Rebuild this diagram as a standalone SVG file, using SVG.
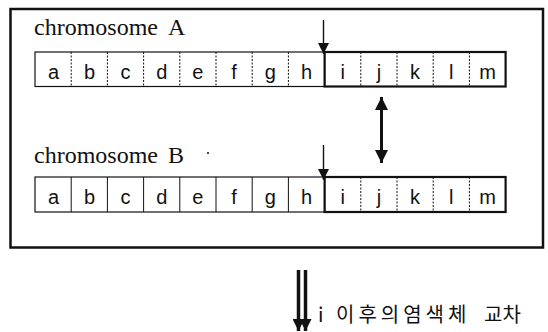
<svg xmlns="http://www.w3.org/2000/svg" width="548" height="332" viewBox="0 0 548 332">
<style>
.lbl{font-family:"Liberation Serif","Times New Roman",serif;font-size:24px;fill:#111}
.gene{font-family:"Liberation Sans",Arial,sans-serif;font-size:20px;fill:#111;text-anchor:middle}
.thin{fill:none;stroke:#111;stroke-width:1.2}
.thick{fill:none;stroke:#111;stroke-width:2.2}
.dot{stroke:#111;stroke-width:1;stroke-dasharray:2 1.5}
.sol{stroke:#111;stroke-width:1}
.kor{font-family:"Noto Sans CJK KR","Noto Sans",sans-serif;font-size:20px;fill:#111}
</style>
<defs>
<marker id="ah" viewBox="0 0 10 10" refX="10" refY="5" markerWidth="13" markerHeight="11" markerUnits="userSpaceOnUse" orient="auto"><path d="M0,0 L10,5 L0,10 z" fill="#111"/></marker>
<marker id="ahb" viewBox="0 0 10 10" refX="10" refY="5" markerWidth="16" markerHeight="13" markerUnits="userSpaceOnUse" orient="auto-start-reverse"><path d="M0,0 L10,5 L0,10 z" fill="#111"/></marker>
<marker id="ahd" viewBox="0 0 10 10" refX="10" refY="5" markerWidth="17" markerHeight="12" markerUnits="userSpaceOnUse" orient="auto"><path d="M0,0 L10,5 L0,10 z" fill="#111"/></marker>
</defs>
<rect width="548" height="332" fill="#fff"/>
<g id="frame">
<rect x="10.5" y="9" width="532.5" height="238.5" fill="none" stroke="#111" stroke-width="2.5"/>
</g>
<g id="chromosomeA">
<text class="lbl" x="34" y="35">chromosome</text>
<text class="lbl" x="168" y="35">A</text>
<rect class="thin" x="35" y="52" width="289.6" height="34.5"/>
<line class="dot" x1="71.2" y1="52" x2="71.2" y2="86.5"/>
<line class="dot" x1="107.4" y1="52" x2="107.4" y2="86.5"/>
<line class="dot" x1="143.6" y1="52" x2="143.6" y2="86.5"/>
<line class="dot" x1="179.8" y1="52" x2="179.8" y2="86.5"/>
<line class="dot" x1="216" y1="52" x2="216" y2="86.5"/>
<line class="dot" x1="252.2" y1="52" x2="252.2" y2="86.5"/>
<line class="dot" x1="288.4" y1="52" x2="288.4" y2="86.5"/>
<line class="dot" x1="360.8" y1="52" x2="360.8" y2="86.5"/>
<line class="dot" x1="397" y1="52" x2="397" y2="86.5"/>
<line class="dot" x1="433.2" y1="52" x2="433.2" y2="86.5"/>
<line class="dot" x1="469.4" y1="52" x2="469.4" y2="86.5"/>
<rect class="thick" x="324.6" y="52" width="181" height="34.5"/>
<text class="gene" x="53.5" y="79">a</text>
<text class="gene" x="89.5" y="79">b</text>
<text class="gene" x="125.5" y="79">c</text>
<text class="gene" x="161.7" y="79">d</text>
<text class="gene" x="197.9" y="79">e</text>
<text class="gene" x="234.1" y="79">f</text>
<text class="gene" x="270.3" y="79">g</text>
<text class="gene" x="306.5" y="79">h</text>
<text class="gene" x="342.7" y="79">i</text>
<text class="gene" x="378.9" y="79">j</text>
<text class="gene" x="415.1" y="79">k</text>
<text class="gene" x="451.3" y="79">l</text>
<text class="gene" x="487.5" y="79">m</text>
</g>
<g id="chromosomeB">
<text class="lbl" x="34" y="163">chromosome</text>
<text class="lbl" x="168" y="163">B</text>
<circle cx="208" cy="153" r="1" fill="#111"/>
<rect class="thin" x="35" y="177" width="289.6" height="35"/>
<line class="sol" x1="71.2" y1="177" x2="71.2" y2="212"/>
<line class="sol" x1="107.4" y1="177" x2="107.4" y2="212"/>
<line class="sol" x1="143.6" y1="177" x2="143.6" y2="212"/>
<line class="sol" x1="179.8" y1="177" x2="179.8" y2="212"/>
<line class="sol" x1="216" y1="177" x2="216" y2="212"/>
<line class="sol" x1="252.2" y1="177" x2="252.2" y2="212"/>
<line class="sol" x1="288.4" y1="177" x2="288.4" y2="212"/>
<line class="dot" x1="360.8" y1="177" x2="360.8" y2="212"/>
<line class="dot" x1="397" y1="177" x2="397" y2="212"/>
<line class="dot" x1="433.2" y1="177" x2="433.2" y2="212"/>
<line class="dot" x1="469.4" y1="177" x2="469.4" y2="212"/>
<rect class="thick" x="324.6" y="177" width="181" height="35"/>
<text class="gene" x="53.5" y="204">a</text>
<text class="gene" x="89.5" y="204">b</text>
<text class="gene" x="125.5" y="204">c</text>
<text class="gene" x="161.7" y="204">d</text>
<text class="gene" x="197.9" y="204">e</text>
<text class="gene" x="234.1" y="204">f</text>
<text class="gene" x="270.3" y="204">g</text>
<text class="gene" x="306.5" y="204">h</text>
<text class="gene" x="342.7" y="204">i</text>
<text class="gene" x="378.9" y="204">j</text>
<text class="gene" x="415.1" y="204">k</text>
<text class="gene" x="451.3" y="204">l</text>
<text class="gene" x="487.5" y="204">m</text>
</g>
<g id="connectors">
<line x1="323.5" y1="20" x2="323.5" y2="54" stroke="#111" stroke-width="1.4" marker-end="url(#ah)"/>
<line x1="323.5" y1="145" x2="323.5" y2="180" stroke="#111" stroke-width="1.4" marker-end="url(#ah)"/>
<line x1="381.5" y1="97" x2="381.5" y2="163" stroke="#111" stroke-width="3" marker-start="url(#ahb)" marker-end="url(#ahb)"/>
<line x1="298.5" y1="270" x2="298.5" y2="331" stroke="#111" stroke-width="3.5" marker-end="url(#ahd)"/>
<line x1="305.5" y1="270" x2="305.5" y2="331" stroke="#111" stroke-width="3.5" marker-end="url(#ahd)"/>
</g>
<g id="caption">
<text class="kor" y="322"><tspan x="318">i</tspan> <tspan x="336" letter-spacing="4">이후의염색체</tspan> <tspan x="484">교차</tspan></text>
</g>
</svg>
